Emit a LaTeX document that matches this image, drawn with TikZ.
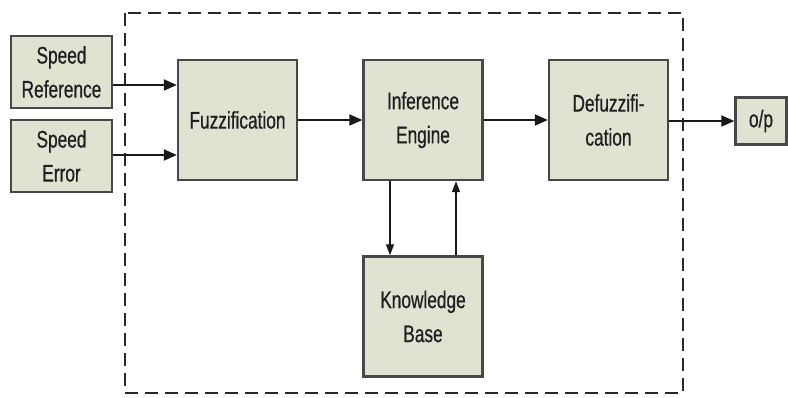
\documentclass[tikz,border=0pt]{standalone}
\usepackage{fontspec}
\usepackage{xcolor}
\usepackage{tikz}
\usetikzlibrary{arrows.meta,calc,positioning}
\newfontfamily\blockfont[FakeStretch=0.72,FakeBold=0.6]{Liberation Sans}
\definecolor{blockfill}{RGB}{224,226,210}
\definecolor{blockline}{RGB}{72,72,72}
\definecolor{frameline}{RGB}{40,40,40}

\begin{document}
\begin{tikzpicture}[x=1pt,y=-1pt,
	every node/.style={font=\blockfont\fontsize{24}{34}\selectfont,text=black!88,align=center,inner sep=0pt},
	block/.style={draw=blockline,line width=2.4pt,fill=blockfill,minimum width=119pt,minimum height=120pt},
	inbox/.style={block,minimum width=101pt,minimum height=72pt},
	flow/.style={-{Triangle[length=13pt,width=11pt]},line width=2pt,color=black!90},
	kbflow/.style={-{Triangle[length=11pt,width=8pt]},line width=1.3pt,color=black!90},
	]
\useasboundingbox (0,0) rectangle (788,398);

% the controller boundary
\draw[frameline,line width=2.8pt,dash pattern=on 13pt off 7pt] (125,13) rectangle (683,393);

\node[inbox](sref) at (61.5,72) {Speed\\Reference};
\node[inbox](serr) at (61.5,156) {Speed\\Error};

\node[block](fuzz)   at (237.5,120) {Fuzzification};
\node[block](infer)  at (423,120)   {Inference\\Engine};
\node[block](defuzz) at (608.5,120) {Defuzzifi-\\cation};
\node[block](kbase)  at (423,316.5) {Knowledge\\Base};

\node[block,minimum width=51pt,minimum height=47pt](op) at (761,121) {o/p};

\draw[flow]([yshift=-13pt]sref.east)-- ([yshift= 35pt]fuzz.west);
\draw[flow]([yshift=  1pt]serr.east)-- ([yshift=-35pt]fuzz.west);
\draw[flow](fuzz.east)-- (infer.west);
\draw[flow](infer.east)-- (defuzz.west);
\draw[flow]([yshift=-1pt]defuzz.east)-- (op.west);
\draw[kbflow]([xshift=-33pt]infer.south)-- ([xshift=-33pt]kbase.north);
\draw[kbflow]([xshift= 33pt]kbase.north)-- ([xshift= 33pt]infer.south);
\end{tikzpicture}
\end{document}
